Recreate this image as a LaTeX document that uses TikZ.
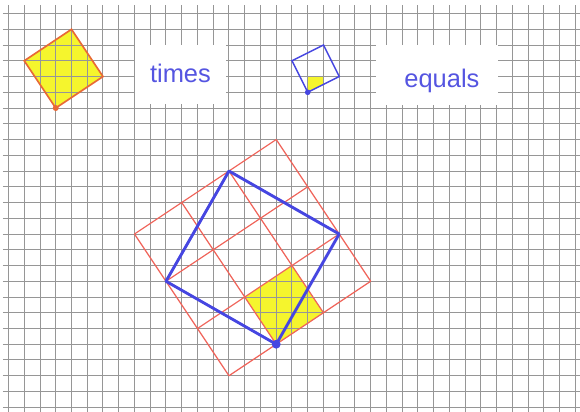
\documentclass[tikz,border=0pt]{standalone}
\usepackage{fontspec}
\setmainfont{Liberation Sans}
\usetikzlibrary{calc}
\definecolor{gridgray}{RGB}{150,150,150}
\definecolor{tilered}{RGB}{240,100,90}
\definecolor{edgered}{RGB}{232,105,55}
\definecolor{prodblue}{RGB}{70,70,225}
\definecolor{wordblue}{RGB}{85,85,225}
\definecolor{unityellow}{RGB}{245,245,45}

\begin{document}
\begin{tikzpicture}[x=0.5cm, y=0.5cm,
  gridline/.style={draw=gridgray, line width=0.9pt},
  tile/.style={draw=tilered, line width=1.1pt},
  word/.style={text=wordblue, font=\fontsize{23}{26}\selectfont, inner sep=0pt, anchor=base}
]
  \useasboundingbox (-0.54,-0.30) rectangle (36.29,25.86);

  % yellow patches first, grid on top
  \fill[unityellow] (3,19) -- (6,21) -- (4,24) -- (1,22) -- cycle;
  \begin{scope}
    \clip (19,20) -- (21,21) -- (20,23) -- (18,22) -- cycle;
    \fill[unityellow] (19,20) rectangle (20,21);
  \end{scope}
  \fill[unityellow] (17,4) -- (20,6) -- (18,9) -- (15,7) -- cycle;

  % paper grid
  \foreach \i in {0,...,36}
    \draw[gridline] (\i,-0.3) -- (\i,25.54);
  \foreach \j in {0,...,25}
    \draw[gridline] (-0.35,\j) -- (36.29,\j);

  % labels
  \fill[white] (8.03,19.25) rectangle (13.81,23.0);
  \fill[white] (23.33,19.19) rectangle (31.08,23.0);
  \node[word] (times) at (10.92,20.61) {times};
  \node[word] (equals) at (27.52,20.33) {equals};

  % first factor
  \draw[edgered, line width=1.5pt] (3,19) -- (6,21) -- (4,24) -- (1,22) -- cycle;
  \fill[edgered] (3,19) circle (0.19);

  % second factor
  \draw[prodblue, line width=1.3pt] (19,20) -- (21,21) -- (20,23) -- (18,22) -- cycle;
  \fill[prodblue] (19,20) circle (0.18);

  % product on tiles of the first factor
  \coordinate (O) at (14,2);
  \foreach \k in {0,...,3} {
    \draw[tile] ($(O)+\k*(-2,3)$) -- ++(9,6);
    \draw[tile] ($(O)+\k*(3,2)$) -- ++(-6,9);
  }
  \draw[prodblue, line width=2.6pt, line join=round] (17,4) -- (21,11) -- (14,15) -- (10,8) -- cycle;
  \fill[prodblue] (17,4) circle (0.28);
\end{tikzpicture}
\end{document}
